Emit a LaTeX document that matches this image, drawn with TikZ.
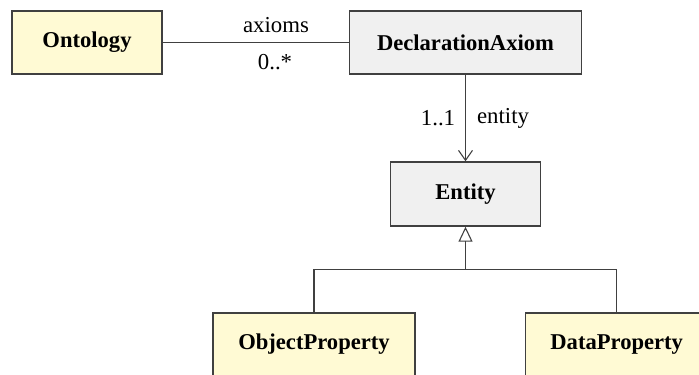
\documentclass[tikz,border=0pt]{standalone}
\usepackage{fontspec}
\setmainfont{Liberation Serif}
\usetikzlibrary{arrows.meta}
\definecolor{clsyellow}{RGB}{255,250,212}
\definecolor{clsgray}{RGB}{240,240,240}
\definecolor{clsline}{RGB}{64,64,64}
\tikzset{
  cls/.style={draw=clsline, line width=0.7pt, rectangle, minimum height=31.5pt, inner sep=0pt, font=\bfseries\fontsize{11.3}{13}\selectfont},
  ycls/.style={cls, fill=clsyellow},
  gcls/.style={cls, fill=clsgray},
  conn/.style={draw=clsline, line width=0.55pt},
  lbl/.style={inner sep=0pt, font=\fontsize{11.4}{13}\selectfont}
}
\begin{document}
\begin{tikzpicture}[x=0.5pt,y=-0.5pt]
\useasboundingbox (0,0) rectangle (699,374);
\node[ycls, minimum width=75pt] (ont) at (87,42.5) {Ontology};
\node[gcls, minimum width=116pt] (decl) at (465.5,42.5) {DeclarationAxiom};
\node[gcls, minimum width=75pt, minimum height=32pt] (ent) at (465.5,194) {Entity};
\node[ycls, minimum width=101pt] (obj) at (314,344.5) {ObjectProperty};
\node[ycls, minimum width=91.5pt] (dat) at (616.7,344.5) {DataProperty};
\coordinate (junc) at (465.5,269.3);
\draw[conn] (ont.east) -- (decl.west);
\node[lbl] (lax) at (276,25) {axioms};
\node[lbl] (lmul) at (275,62) {0..*};
\draw[conn, -{Straight Barb[length=5pt,width=7pt]}] (decl.south) -- (ent.north);
\node[lbl] (l11) at (438,118) {1..1};
\node[lbl] (lent) at (503,118) {entity};
\draw[conn] (obj.north) |- (junc);
\draw[conn] (dat.north) |- (junc);
\draw[conn, -{Triangle[open,length=7.5pt,width=7pt]}] (junc) -- (ent.south);
\end{tikzpicture}
\end{document}
